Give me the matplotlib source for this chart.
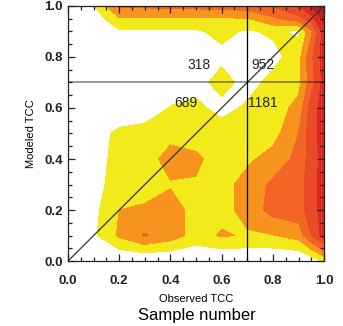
import numpy as np
import matplotlib
matplotlib.use("Agg")
import matplotlib.pyplot as plt
from matplotlib.ticker import MultipleLocator

plt.rcParams['font.family'] = ['Liberation Sans', 'DejaVu Sans']

# grid nodes (observed TCC along x, modeled TCC along y)
tcc_nodes = [0.0, 0.1, 0.2, 0.3, 0.4, 0.5, 0.6, 0.7, 0.8, 0.9, 0.95, 1.0]

# relative sample density on the grid, one row per modeled TCC node
density = [
    [0, 0.0, 0.0, 0.0, 0.0, 0.0, 0.0, 0.0, 0.0, 0.0, 0.3, 1.2],    # 0.0
    [0, 0.8, 2.15, 3.1, 2.5, 1.6, 2.1, 1.9, 1.95, 2.4, 4.0, 5.5],  # 0.1
    [0, 0.7, 2.0, 2.1, 2.5, 1.6, 1.7, 2.3, 3.4, 3.6, 4.5, 5.5],    # 0.2
    [0, 0.6, 1.5, 1.7, 1.9, 1.9, 1.6, 2.4, 3.2, 3.5, 4.6, 5.5],    # 0.3
    [0, 0.5, 1.4, 1.4, 2.5, 2.2, 1.5, 1.8, 2.4, 3.3, 4.5, 5.4],    # 0.4
    [0, 0.4, 1.3, 1.4, 1.6, 1.5, 1.6, 1.5, 1.6, 3.0, 4.6, 5.5],    # 0.5
    [0, 0.0, 0.0, 0.4, 1.05, 1.3, 0.6, 1.2, 1.5, 2.3, 4.5, 5.5],   # 0.6
    [0, 0.0, 0.2, 0.4, 0.5, 0.5, 1.5, 0.5, 1.4, 1.7, 3.6, 5.4],    # 0.7
    [0, 0.0, 0.3, 0.4, 0.4, 0.4, 0.7, 0.5, 0.6, 1.6, 3.8, 5.5],    # 0.8
    [0, 0.0, 0.85, 0.85, 0.8, 0.85, 1.3, 0.85, 1.2, 0.8, 2.8, 5.6],  # 0.9
    [0, 0.3, 1.9, 1.9, 1.9, 1.9, 1.9, 1.95, 2.8, 3.6, 4.6, 6.3],   # 0.95
    [0, 0.95, 3.2, 3.2, 3.3, 3.35, 3.4, 3.6, 4.1, 5.1, 6.1, 7.5],  # 1.0
]

levels = [1, 2, 3, 4, 5, 6, 100]
fill_colors = ['#F2EA1B', '#F7941E', '#F26524', '#EA4A27', '#DC2A25', '#B51F23']

# quadrant split and sample counts per quadrant
threshold = 0.7
count_pos = [(0.51, 0.77), (0.76, 0.77), (0.46, 0.62), (0.76, 0.62)]
count_vals = [318, 952, 689, 1181]

fig = plt.figure(figsize=(3.43, 3.26), dpi=100)
ax = fig.add_axes([0.198, 0.199, 0.747, 0.783])

X, Y = np.meshgrid(tcc_nodes, tcc_nodes)
ax.contourf(X, Y, np.array(density), levels=levels, colors=fill_colors)

ax.plot([0, 1], [0, 1], color='#333333', lw=0.9)
ax.axhline(threshold, color='k', alpha=0.4, lw=1.4)
ax.axvline(threshold, color='k', lw=0.9)

for (px, py), n in zip(count_pos, count_vals):
    ax.text(px, py, str(n), ha='center', va='center', fontsize=10, color='#222222')

ax.set_xlim(0, 1)
ax.set_ylim(0, 1)
ax.xaxis.set_major_locator(MultipleLocator(0.2))
ax.yaxis.set_major_locator(MultipleLocator(0.2))
ax.xaxis.set_minor_locator(MultipleLocator(0.05))
ax.yaxis.set_minor_locator(MultipleLocator(0.05))
ax.tick_params(which='both', direction='in', top=True, right=True, width=0.9, color='#222222')
ax.tick_params(which='major', length=5)
ax.tick_params(which='minor', length=3)
ax.tick_params(axis='x', pad=10, labelsize=9.5)
ax.tick_params(axis='y', pad=3.5, labelsize=9.5)
ax.xaxis.set_major_formatter(lambda v, p: f'{v:.1f}')
ax.yaxis.set_major_formatter(lambda v, p: f'{v:.1f}')
for lab in ax.get_xticklabels() + ax.get_yticklabels():
    lab.set_fontweight('bold')
    lab.set_color('#222222')
ylabs = ax.get_yticklabels()
ylabs[0].set_va('bottom')
ylabs[-1].set_va('top')
for s in ax.spines.values():
    s.set_linewidth(0.9)
    s.set_color('#222222')

ax.set_ylabel('Modeled TCC', fontsize=8, labelpad=6)
ax.set_xlabel('Observed TCC', fontsize=8, labelpad=5)
fig.text(0.575, 0.033, 'Sample number', ha='center', va='center', fontsize=12)

fig.savefig('out.png', dpi=100)
